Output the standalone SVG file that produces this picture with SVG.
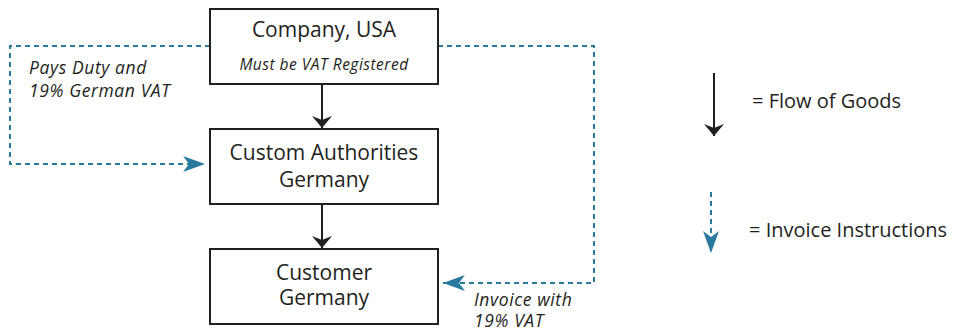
<svg xmlns="http://www.w3.org/2000/svg" width="969" height="330" viewBox="0 0 969 330">
<defs>
<marker id="ah" viewBox="0 0 12 24" refX="12" refY="12" markerWidth="12" markerHeight="24" markerUnits="userSpaceOnUse" orient="auto"><path d="M0,2 L12,12 L0,22 L4,12 Z" fill="#231f20"/></marker>
<marker id="bh" viewBox="0 0 22 16" refX="22" refY="8" markerWidth="22" markerHeight="16" markerUnits="userSpaceOnUse" orient="auto"><path d="M0,0 L22,8 L0,16 L6,8 Z" fill="#2a7aa0"/></marker>
<style>
.box{fill:#fff;stroke:#231f20;stroke-width:2}
.t{font-family:"Open Sans",Lato,sans-serif;fill:#231f20}
.n{font-size:21px;text-anchor:middle}
.i{font-style:italic}
.lb{font-size:17.5px;letter-spacing:0.6px}
.g{stroke:#231f20;stroke-width:2;fill:none}
.d{stroke:#2a7aa0;stroke-width:2;fill:none;stroke-dasharray:5,4}
</style>
</defs>
<g id="connectors">
<line class="g" x1="322" y1="84" x2="322" y2="128" marker-end="url(#ah)"/>
<line class="g" x1="322" y1="204" x2="322" y2="248" marker-end="url(#ah)"/>
<polyline class="d" points="210,46 10,46 10,164 205,164" marker-end="url(#bh)"/>
<polyline class="d" points="438,46 594,46 594,283 443,283" marker-end="url(#bh)"/>
</g>
<g id="company">
<rect class="box" x="210" y="9" width="228" height="75"/>
<text class="t n" x="324" y="37">Company, USA</text>
<text class="t i" x="324" y="70" font-size="15.5" letter-spacing="0.5" text-anchor="middle">Must be VAT Registered</text>
</g>
<g id="customs">
<rect class="box" x="210" y="129" width="228" height="75"/>
<text class="t n" x="324" y="160">Custom Authorities</text>
<text class="t n" x="324" y="187">Germany</text>
</g>
<g id="customer">
<rect class="box" x="210" y="249" width="228" height="75"/>
<text class="t n" x="324" y="280">Customer</text>
<text class="t n" x="324" y="305">Germany</text>
</g>
<g id="labels">
<text class="t i lb" x="29" y="74">Pays Duty and</text>
<text class="t i lb" x="29" y="97">19% German VAT</text>
<text class="t i lb" x="474" y="306">Invoice with</text>
<text class="t i lb" x="474" y="327">19% VAT</text>
</g>
<g id="legend">
<line class="g" x1="714" y1="73" x2="714" y2="136" marker-end="url(#ah)"/>
<text class="t" x="752" y="108" font-size="20">= Flow of Goods</text>
<line class="d" x1="711" y1="192" x2="711" y2="253" marker-end="url(#bh)"/>
<text class="t" x="749" y="237" font-size="20">= Invoice Instructions</text>
</g>
</svg>
